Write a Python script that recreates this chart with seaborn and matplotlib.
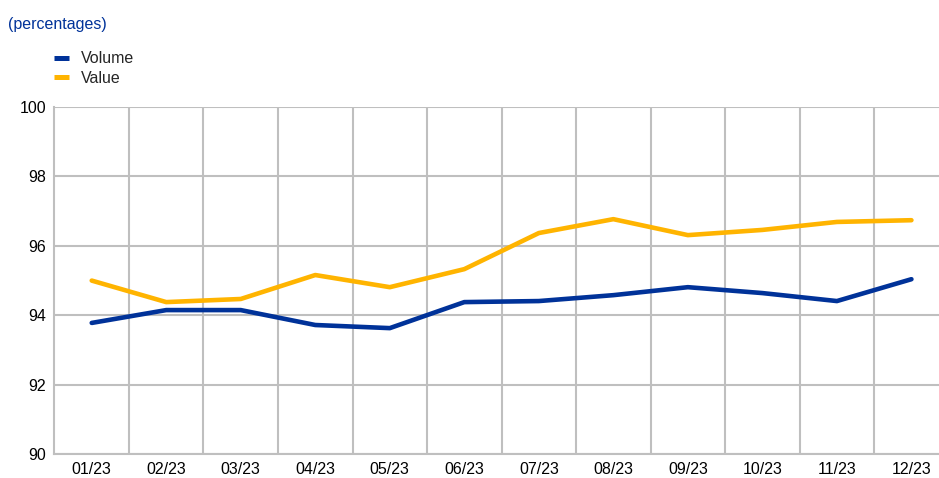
import pandas as pd
import matplotlib.pyplot as plt
import seaborn as sns
from matplotlib.lines import Line2D

# Data
months = ["01/23", "02/23", "03/23", "04/23", "05/23", "06/23",
          "07/23", "08/23", "09/23", "10/23", "11/23", "12/23"]
volume = [93.78, 94.15, 94.15, 93.72, 93.63, 94.38,
          94.41, 94.58, 94.81, 94.64, 94.41, 95.04]
value = [95.00, 94.38, 94.47, 95.16, 94.81, 95.33,
         96.37, 96.77, 96.31, 96.46, 96.69, 96.74]

df = pd.DataFrame({"month": months * 2,
                   "pct": volume + value,
                   "series": ["Volume"] * 12 + ["Value"] * 12})
df["x"] = list(range(12)) * 2

sns.set_style("white")
plt.rcParams["font.family"] = ["Liberation Sans", "DejaVu Sans"]

fig = plt.figure(figsize=(9.39, 4.78), dpi=100)
ax = fig.add_axes([0.058, 0.05, 0.942, 0.726])

blue, yellow = "#003299", "#FFB400"
sns.lineplot(data=df, x="x", y="pct", hue="series",
             palette={"Volume": blue, "Value": yellow},
             linewidth=3.3, ax=ax, legend=False)

grid_c = "#BFBFBF"
ax.set_ylim(90, 100)
ax.set_yticks(range(90, 101, 2))
ax.set_xlim(-0.5, 11.37)
ax.set_xticks(range(12))
ax.set_xticklabels(months)
ax.set_xticks([i + 0.5 for i in range(11)], minor=True)
ax.grid(False)
ax.yaxis.grid(True, color=grid_c, linewidth=1.5)
ax.xaxis.grid(True, which="minor", color=grid_c, linewidth=1.5)
ax.tick_params(axis="both", which="both", length=0, labelsize=11.5,
               colors="#000000", pad=6)
for side in ["top", "right"]:
    ax.spines[side].set_visible(False)
for side in ["left", "bottom"]:
    ax.spines[side].set_color(grid_c)
    ax.spines[side].set_linewidth(1.5)
ax.set(xlabel="", ylabel="")

# Legend
handles = [Line2D([], [], color=blue, linewidth=3.6, solid_capstyle="butt"),
           Line2D([], [], color=yellow, linewidth=3.6, solid_capstyle="butt")]
fig.legend(handles, ["Volume", "Value"], loc="upper left",
           bbox_to_anchor=(0.0437, 0.9195), frameon=False, fontsize=11.5,
           handlelength=0.94, handletextpad=0.75, labelspacing=0.28,
           borderpad=0.3)

fig.text(0.009, 0.934, "(percentages)", color=blue, fontsize=11.5,
         ha="left", va="bottom")

fig.savefig("out.png", dpi=100)
